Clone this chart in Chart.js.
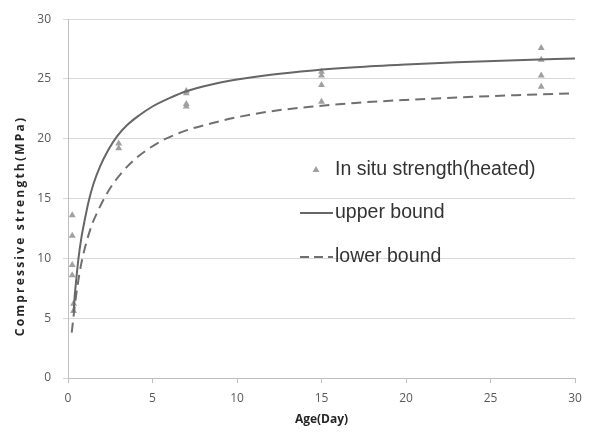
<!DOCTYPE html>
<html><head><meta charset="utf-8">
<script src="https://cdn.jsdelivr.net/npm/chart.js@4.4.1/dist/chart.umd.min.js"></script>
<style>html,body{margin:0;padding:0;background:#fff}#wrap{width:595px;height:435px;position:relative}</style>
</head><body><div id="wrap"><canvas id="c" width="595" height="435"></canvas></div>
<script>
const xTicks = [0, 5, 10, 15, 20, 25, 30];
const yTicks = [0, 5, 10, 15, 20, 25, 30];
const seriesNames = ['In situ strength(heated)', 'upper bound', 'lower bound'];
const xTitle = 'Age(Day)';
const yTitle = 'Compressive strength(MPa)';

const insituAge = [0.25, 0.25, 0.25, 0.25, 0.33, 0.33, 3, 3, 7, 7, 7, 7, 15, 15, 15, 15, 28, 28, 28, 28];
const insituStrength = [13.6, 11.9, 9.45, 8.6, 6.2, 5.6, 19.6, 19.2, 24.0, 23.8, 22.9, 22.7, 25.6, 25.3, 24.5, 23.1, 27.6, 26.6, 25.3, 24.35];

const upperAge = [0.33, 0.4, 0.5, 0.62, 0.8, 0.96, 1.21, 1.5, 1.9, 2.4, 2.9, 3.5, 4.2, 5, 6, 7, 8.5, 10, 12, 14.5, 17, 20, 23, 26.5, 30];
const upperStrength = [5.5, 6.9, 8.4, 10.0, 11.8, 13.0, 14.7, 16.2, 17.7, 19.1, 20.2, 21.15, 21.95, 22.7, 23.4, 23.97, 24.54, 24.95, 25.36, 25.72, 25.98, 26.21, 26.4, 26.57, 26.72];

const lowerAge = [0.22, 0.3, 0.4, 0.55, 0.82, 1.1, 1.41, 1.75, 2.1, 2.6, 3.2, 3.88, 4.6, 5.5, 7, 8.5, 10, 12, 14.5, 17, 20, 23, 26.5, 30];
const lowerStrength = [3.8, 4.8, 6.0, 7.6, 9.8, 11.4, 12.8, 13.9, 14.9, 16.1, 17.2, 18.2, 19.0, 19.8, 20.7, 21.3, 21.8, 22.3, 22.7, 23.0, 23.25, 23.45, 23.65, 23.8];

const pts = (xs, ys) => xs.map((x, i) => ({ x: x, y: ys[i] }));

const customText = {
  id: 'customText',
  afterDraw(chart) {
    const ctx = chart.ctx;
    const ca = chart.chartArea;
    ctx.save();
    ctx.fillStyle = '#262626';
    ctx.font = 'bold 12px "Open Sans", sans-serif';
    ctx.textAlign = 'center';
    ctx.textBaseline = 'middle';
    ctx.fillText(xTitle, (ca.left + ca.right) / 2, 420);
    ctx.save();
    ctx.translate(21, 226);
    ctx.rotate(-Math.PI / 2);
    if ('letterSpacing' in ctx) ctx.letterSpacing = '2.2px';
    ctx.fillText(yTitle, 0, 0);
    ctx.restore();
    const ds = chart.data.datasets;
    const rows = [170, 213, 257];
    ctx.fillStyle = ds[0].backgroundColor;
    ctx.beginPath();
    ctx.moveTo(316, 166);
    ctx.lineTo(319.5, 172);
    ctx.lineTo(312.5, 172);
    ctx.closePath();
    ctx.fill();
    ctx.lineWidth = 2;
    ctx.strokeStyle = ds[1].borderColor;
    ctx.setLineDash([]);
    ctx.beginPath(); ctx.moveTo(300, rows[1]); ctx.lineTo(333, rows[1]); ctx.stroke();
    ctx.strokeStyle = ds[2].borderColor;
    ctx.setLineDash([9, 5]);
    ctx.beginPath(); ctx.moveTo(300, rows[2]); ctx.lineTo(333, rows[2]); ctx.stroke();
    ctx.setLineDash([]);
    ctx.font = '19.5px "Liberation Sans", Arial, sans-serif';
    ctx.textAlign = 'left';
    ctx.fillStyle = '#333333';
    for (let i = 0; i < 3; i++) ctx.fillText(seriesNames[i], 335, rows[i]);
    ctx.restore();
  }
};

new Chart(document.getElementById('c'), {
  type: 'scatter',
  data: {
    datasets: [
      {
        label: seriesNames[0],
        data: pts(insituAge, insituStrength),
        pointStyle: 'triangle',
        pointRadius: 4,
        backgroundColor: '#a0a0a0',
        borderColor: '#a0a0a0',
        borderWidth: 0,
        showLine: false,
        order: 3
      },
      {
        label: seriesNames[1],
        data: pts(upperAge, upperStrength),
        showLine: true,
        borderColor: '#666666',
        borderWidth: 2,
        pointRadius: 0,
        cubicInterpolationMode: 'monotone',
        fill: false,
        order: 1
      },
      {
        label: seriesNames[2],
        data: pts(lowerAge, lowerStrength),
        showLine: true,
        borderColor: '#707070',
        borderWidth: 2,
        borderDash: [10, 6],
        pointRadius: 0,
        cubicInterpolationMode: 'monotone',
        fill: false,
        order: 2
      }
    ]
  },
  options: {
    responsive: false,
    animation: false,
    devicePixelRatio: 1,
    layout: { padding: { left: 0, right: 20, top: 14, bottom: 0 } },
    plugins: { legend: { display: false }, tooltip: { enabled: false } },
    scales: {
      x: {
        type: 'linear', min: 0, max: 30,
        afterBuildTicks: s => { s.ticks = xTicks.map(v => ({ value: v })); },
        afterFit: s => { s.height = 57; },
        grid: { drawOnChartArea: false, drawTicks: true, tickLength: 5, color: '#bfbfbf' },
        border: { color: '#bfbfbf' },
        ticks: { color: '#595959', font: { family: '"Open Sans", sans-serif', size: 12 }, padding: 8, maxRotation: 0 }
      },
      y: {
        type: 'linear', min: 0, max: 30,
        afterBuildTicks: s => { s.ticks = yTicks.map(v => ({ value: v })); },
        afterFit: s => { s.width = 68; },
        grid: { drawTicks: true, tickLength: 5, color: '#d9d9d9' },
        border: { color: '#bfbfbf' },
        ticks: { color: '#595959', font: { family: '"Open Sans", sans-serif', size: 12 }, padding: 12 }
      }
    }
  },
  plugins: [customText]
});
</script>
</body></html>
